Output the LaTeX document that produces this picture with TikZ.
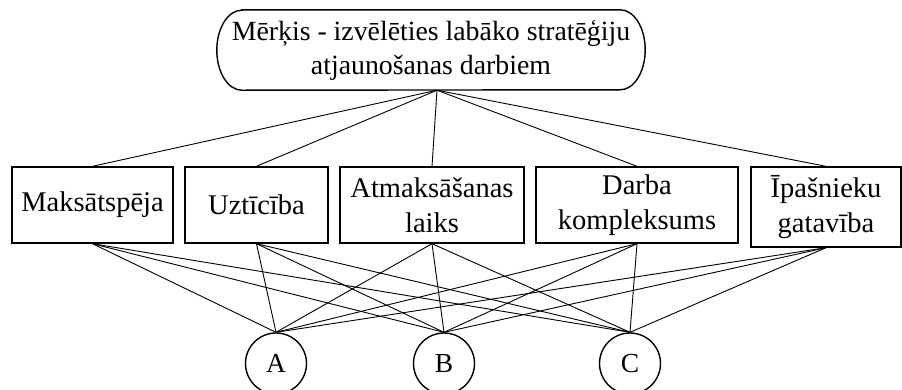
\documentclass[tikz,border=0pt]{standalone}
\usepackage{fontspec}
\setmainfont{Liberation Serif}
\begin{document}
\begin{tikzpicture}[x=1pt,y=-1pt,
  crit/.style={draw, line width=1.4pt, inner sep=0pt, align=center,
    font=\fontsize{28.5}{35}\selectfont},
  alt/.style={draw, circle, line width=1.4pt, minimum size=61pt, inner sep=0pt,
    font=\fontsize{27.5}{32}\selectfont},
  link/.style={line width=0.9pt}]
\useasboundingbox (0,0) rectangle (902,389);

% goal: text node, outline drawn as a rectangle with elliptic ends
\node[align=center, minimum width=428pt, minimum height=80pt, inner sep=0pt,
  font=\fontsize{27.8}{34}\selectfont] (goal) at (431,50)
  {\raisebox{-3pt}{\parbox{428pt}{\centering Mērķis - izvēlēties labāko stratēģiju\\atjaunošanas darbiem}}};
\draw[line width=1.4pt]
  ([xshift=25pt]goal.north west) -- ([xshift=-25pt]goal.north east)
  arc[start angle=90, end angle=-90, x radius=25pt, y radius=40pt]
  -- ([xshift=25pt]goal.south west)
  arc[start angle=270, end angle=90, x radius=25pt, y radius=40pt] -- cycle;
\coordinate (hub) at ([xshift=6pt]goal.south);

% criteria
\node[crit, minimum width=161pt, minimum height=76pt] (c1) at (92.5,205) {Maksātspēja};
\node[crit, minimum width=143pt, minimum height=76pt] (c2) at (256.5,205) {Uztīcība};
\node[crit, minimum width=184pt, minimum height=76pt] (c3) at (432,205) {\raisebox{-3pt}{\parbox{184pt}{\centering Atmaksāšanas\\laiks}}};
\node[crit, minimum width=202pt, minimum height=76pt] (c4) at (637,205) {\raisebox{-3pt}{\parbox{202pt}{\centering Darba\\kompleksums}}};
\node[crit, minimum width=150pt, minimum height=80pt] (c5) at (826,207) {\raisebox{-2pt}{\parbox{150pt}{\centering Īpašnieku\\gatavība}}};

% alternatives
\node[alt] (a) at (276,363.5) {A};
\node[alt] (b) at (444,363.5) {B};
\node[alt] (c) at (630,363.5) {C};

% goal to criteria
\foreach \k in {c1,c2,c3,c4,c5}
  \draw[link] (hub) -- (\k.north);

% criteria to alternatives
\foreach \k in {c1,c2,c3,c4,c5}
  \foreach \v in {a,b,c}
    \draw[link] (\k.south) -- (\v.north);
\end{tikzpicture}
\end{document}
